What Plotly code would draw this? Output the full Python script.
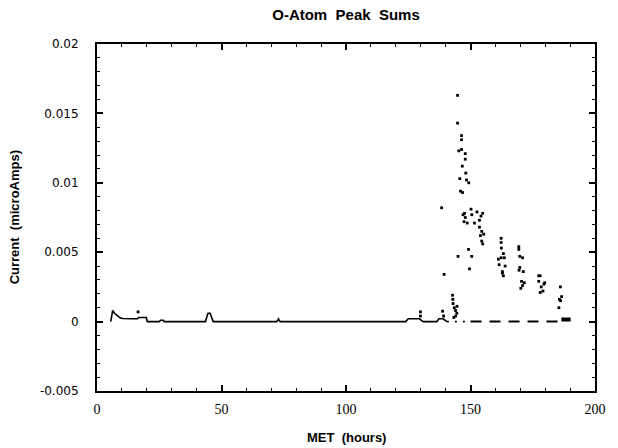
import plotly.graph_objects as go

# Continuous low-level baseline of the O-atom peak sum (MET hours, microAmps)
base_hours = [5.5, 5.9, 6.3, 7.0, 8.0, 9.1, 10.2, 11.5, 13.0, 14.5, 16.2, 16.8, 18.5, 19.8,
              20.2, 25.0, 25.5, 26.6, 27.0, 43.6, 44.2, 44.6, 45.4, 45.9, 46.7, 72.2, 72.9,
              73.5, 124.0, 125.0, 129.5, 131.0, 136.5, 137.3, 139.0, 140.5]
base_current = [0.0, 0.0006, 0.0008, 0.0006, 0.00045, 0.0003, 0.00022, 0.0002, 0.0002, 0.0002,
                0.0002, 0.0003, 0.0003, 0.0003, 0.0, 0.0, 0.0001, 0.0001, 0.0, 0.0, 0.0004,
                0.0006, 0.0006, 0.0004, 0.0, 0.0, 0.0002, 0.0, 0.0, 0.0002, 0.0002, 0.0, 0.0,
                0.0002, 0.0002, 0.0]

# Sparsely sampled zero level after the burn
dotted_hours = [140.5, 149.0]
dotted_current = [0.0, 0.0]
dashed_hours = [150.0, 186.3]
dashed_current = [0.0, 0.0]
tail_hours = [186.5, 190.2]
tail_current = [0.00015, 0.00015]

# Individual peak-sum samples
peak_hours = [16.5, 129.9, 129.9, 138.4, 138.8, 139.2, 139.4,
              142.8, 142.9, 143.0, 143.5, 144.0, 144.5, 144.0, 143.3, 144.6,
              144.8, 144.8, 146.4, 146.4, 146.4, 145.3, 147.9, 147.9, 146.7, 148.1,
              145.7, 148.4, 149.3, 146.0, 146.8,
              147.6, 147.9, 150.2, 150.5, 152.6, 154.2, 153.6, 148.7, 151.6, 154.9,
              153.6, 154.5, 154.0, 155.3, 154.5, 154.9, 149.2, 150.5, 149.6, 145.0,
              147.0, 147.4,
              162.3, 162.3, 162.4, 163.2, 162.3, 163.6, 161.2, 161.5, 163.9, 162.8,
              163.2, 162.8,
              169.4, 169.4, 169.8, 170.9, 169.8, 169.5, 171.2, 170.5, 170.2, 171.6, 170.9,
              178.0, 177.4, 178.4, 179.5, 178.0, 179.1, 179.8, 177.4,
              186.1, 185.7, 186.6, 185.5, 186.2]
peak_current = [0.0007, 0.0007, 0.0004, 0.0082, 0.00075, 0.0004, 0.0034,
                0.0019, 0.0016, 0.0013, 0.0010, 0.0008, 0.0006, 0.0004, 0.0003, 0.0011,
                0.0163, 0.0143, 0.0134, 0.0131, 0.0124, 0.0123, 0.0121, 0.0117, 0.0112, 0.0107,
                0.0103, 0.0102, 0.0100, 0.0094, 0.0093,
                0.0078, 0.0075, 0.0081, 0.0077, 0.0079, 0.0076, 0.0073, 0.0071, 0.0071, 0.0078,
                0.0068, 0.0065, 0.0062, 0.0063, 0.0058, 0.0056, 0.0052, 0.0047, 0.0038, 0.0047,
                0.0077, 0.0072,
                0.0060, 0.0057, 0.0053, 0.0049, 0.0046, 0.0046, 0.0045, 0.0041, 0.0040, 0.0036,
                0.0033, 0.0035,
                0.0054, 0.0052, 0.0047, 0.0046, 0.0039, 0.0037, 0.0036, 0.0029, 0.0024, 0.0028,
                0.0026,
                0.0033, 0.0029, 0.0025, 0.0027, 0.0021, 0.0022, 0.0028, 0.0033,
                0.0025, 0.0016, 0.0018, 0.0010, 0.0015]

x_ticks = [0, 50, 100, 150, 200]
x_tick_text = ["0", "50", "100", "150", "200"]
y_ticks = [-0.005, 0.0, 0.005, 0.01, 0.015, 0.02]
y_tick_text = ["-0.005", "0", "0.005", "0.01", "0.015", "0.02"]

fig = go.Figure()
fig.add_trace(go.Scatter(x=base_hours, y=base_current, mode="lines",
                         line=dict(color="black", width=1.6), showlegend=False))
fig.add_trace(go.Scatter(x=dotted_hours, y=dotted_current, mode="lines",
                         line=dict(color="black", width=1.6, dash="2px,6px"), showlegend=False))
fig.add_trace(go.Scatter(x=dashed_hours, y=dashed_current, mode="lines",
                         line=dict(color="black", width=2, dash="11px,8px"), showlegend=False))
fig.add_trace(go.Scatter(x=tail_hours, y=tail_current, mode="lines",
                         line=dict(color="black", width=4), showlegend=False))
fig.add_trace(go.Scatter(x=peak_hours, y=peak_current, mode="markers",
                         marker=dict(color="black", size=2.8, symbol="square",
                                     line=dict(width=0)),
                         showlegend=False))

axis_common = dict(
    showline=True, linewidth=2, linecolor="black", mirror="allticks",
    ticks="inside", ticklen=6, tickwidth=1.5, tickcolor="black",
    showgrid=False, zeroline=False,
)

fig.update_xaxes(range=[0, 200], tickvals=x_ticks, ticktext=x_tick_text,
                 tickfont=dict(family="Liberation Serif", size=14, color="black"),
                 ticklabelstandoff=4,
                 minor=dict(dtick=10, ticks="inside", ticklen=3, tickwidth=1, tickcolor="black"),
                 **axis_common)
fig.update_yaxes(range=[-0.005, 0.02], tickvals=y_ticks, ticktext=y_tick_text,
                 tickfont=dict(family="DejaVu Sans", size=12, color="black"),
                 ticklabelstandoff=14,
                 minor=dict(dtick=0.001, ticks="inside", ticklen=3, tickwidth=1, tickcolor="black"),
                 **axis_common)

fig.update_layout(
    width=618, height=448,
    margin=dict(l=97, r=17, t=44, b=57),
    paper_bgcolor="white", plot_bgcolor="white",
    title=dict(text="<b>O-Atom\u00a0\u00a0Peak\u00a0\u00a0Sums</b>", x=0.5, xref="paper",
               y=1 - 15 / 448, yref="container", yanchor="middle",
               font=dict(family="Liberation Sans", size=15, color="black")),
    annotations=[
        dict(text="<b>MET\u00a0\u00a0(hours)</b>", xref="paper", yref="paper",
             x=0.5, y=-0.133, showarrow=False, xanchor="center", yanchor="middle",
             font=dict(family="Liberation Sans", size=13, color="black")),
        dict(text="<b>Current\u00a0\u00a0(microAmps)</b>", xref="paper", yref="paper",
             x=-0.165, y=0.5, showarrow=False, textangle=-90,
             xanchor="center", yanchor="middle",
             font=dict(family="Liberation Sans", size=13, color="black")),
    ],
)

fig.write_html("out.html")
